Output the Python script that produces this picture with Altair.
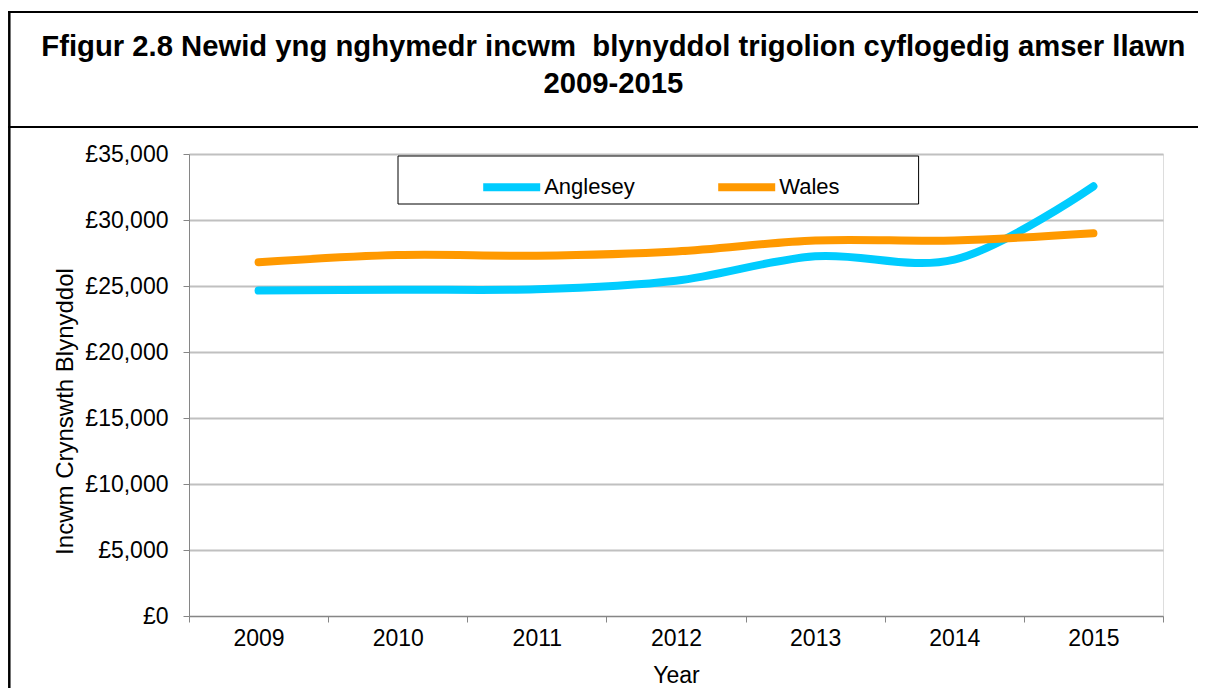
import altair as alt
import pandas as pd

years = ["2009", "2010", "2011", "2012", "2013", "2014", "2015"]
anglesey = [24650, 24720, 24750, 25400, 27250, 27000, 32550]
wales = [26800, 27340, 27300, 27620, 28450, 28450, 29000]
series_names = ["Anglesey", "Wales"]
series_colors = ["#00CCFF", "#FF9900"]
y_ticks = [0, 5000, 10000, 15000, 20000, 25000, 30000, 35000]
title_line1 = "Ffigur 2.8 Newid yng nghymedr incwm\u00a0 blynyddol trigolion cyflogedig amser llawn"
title_line2 = "2009-2015"
x_title = "Year"
y_title = "Incwm Crynswth Blynyddol"

rows = []
for i, yr in enumerate(years):
    rows.append({"Year": yr, "Area": "Anglesey", "Value": anglesey[i]})
    rows.append({"Year": yr, "Area": "Wales", "Value": wales[i]})
df = pd.DataFrame(rows)

FONT = "Liberation Sans"
W, H = 974, 462

lines = alt.Chart(df).mark_line(
    interpolate="catmull-rom", strokeWidth=8, strokeCap="round"
).encode(
    x=alt.X("Year:N", sort=years,
            scale=alt.Scale(type="band", paddingInner=0, paddingOuter=0),
            axis=alt.Axis(title=x_title, labelAngle=0, tickBand="extent",
                          tickSize=6, labelPadding=23, labelBaseline="alphabetic",
                          labelFontSize=23, titleFontSize=23, titleFontWeight="normal",
                          titleY=66, titleBaseline="alphabetic",
                          grid=False, domainColor="#868686", tickColor="#868686",
                          labelColor="black", titleColor="black",
                          labelFont=FONT, titleFont=FONT)),
    y=alt.Y("Value:Q",
            scale=alt.Scale(domain=[0, 35000], nice=False),
            axis=alt.Axis(title=y_title, values=y_ticks,
                          labelExpr="'£' + format(datum.value, ',')",
                          tickSize=6, labelPadding=15, labelFontSize=23,
                          titleFontSize=24, titleFontWeight="normal",
                          titleAngle=270, titleX=-117, titleY=257,
                          titleBaseline="alphabetic", titleAlign="center",
                          grid=True, gridColor="#C0C0C0", gridWidth=2,
                          domainColor="#868686", tickColor="#868686",
                          labelColor="black", titleColor="black",
                          labelFont=FONT, titleFont=FONT)),
    color=alt.Color("Area:N",
                    scale=alt.Scale(domain=series_names, range=series_colors),
                    legend=alt.Legend(orient="none", legendX=290.2, legendY=0.5,
                                      direction="horizontal", title=None,
                                      symbolType="stroke", symbolSize=3249,
                                      symbolStrokeWidth=8, labelFontSize=22,
                                      labelOffset=0, columnPadding=67,
                                      labelFont=FONT, labelColor="black",
                                      padding=0)),
)

one = alt.Data(values=[{"k": 1}])

legend_box = alt.Chart(one).mark_rect(
    fill="white", stroke="black", strokeWidth=1
).encode(
    x=alt.value(209), x2=alt.value(729.6),
    y=alt.value(2), y2=alt.value(50)
)

frame_top = alt.Chart(one).mark_rule(color="black", strokeWidth=2).encode(
    x=alt.value(-181), x2=alt.value(1009), y=alt.value(-142))
frame_sep = alt.Chart(one).mark_rule(color="black", strokeWidth=2).encode(
    x=alt.value(-181), x2=alt.value(1009), y=alt.value(-27))
frame_left = alt.Chart(one).mark_rule(color="black", strokeWidth=2.5).encode(
    x=alt.value(-179.7), y=alt.value(-143), y2=alt.value(534))

t1 = alt.Chart(one).mark_text(
    text=title_line1, font=FONT, fontSize=29.25, fontWeight="bold",
    align="center", baseline="alphabetic", color="black"
).encode(x=alt.value(424.4), y=alt.value(-98))
t2 = alt.Chart(one).mark_text(
    text=title_line2, font=FONT, fontSize=29.25, fontWeight="bold",
    align="center", baseline="alphabetic", color="black"
).encode(x=alt.value(424.4), y=alt.value(-61))

chart = alt.layer(
    legend_box, lines, frame_top, frame_sep, frame_left, t1, t2
).properties(
    width=W, height=H,
    autosize=alt.AutoSizeParams(type="none"),
    padding={"left": 181, "top": 146, "right": 35, "bottom": 72},
).configure_view(stroke=None).configure(background="white")

chart.save("out.html", embed_options={"renderer": "svg", "actions": False})
